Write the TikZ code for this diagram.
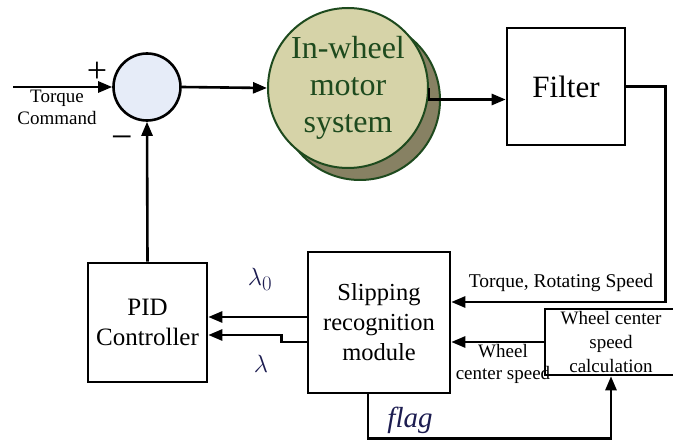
\documentclass[tikz,border=0pt]{standalone}
\usepackage{fontspec}
\setmainfont{Liberation Serif}
\usepackage{tikz}
\usetikzlibrary{positioning,shapes,shadows,arrows.meta}
\definecolor{sumfill}{HTML}{E6ECF8}
\definecolor{motorfill}{HTML}{D6D3A8}
\definecolor{motorshade}{HTML}{878163}
\definecolor{motorline}{HTML}{1E4A1E}
\definecolor{greekblue}{HTML}{1C1C50}
\tikzstyle{block}=[rectangle, draw=black, line width=2.6pt, align=center, inner sep=0pt]
\tikzstyle{sumnode}=[circle, draw=black, line width=2.6pt, fill=sumfill, minimum size=67pt, inner sep=0pt]
\tikzstyle{motornode}=[circle, draw=motorline, line width=2pt, fill=motorfill, text=motorline,
        minimum size=160pt, inner sep=0pt, align=center,
        drop shadow={shadow xshift=12pt, shadow yshift=-12pt, fill=motorshade, draw=motorline, opacity=1}]
\tikzstyle{myarrow}=[-{Triangle[length=14pt,width=11pt]}, line width=2.6pt]
\tikzstyle{sig}=[align=center, inner sep=0pt]

\begin{document}
\begin{tikzpicture}[x=1pt, y=1pt]
	\useasboundingbox (0,0) rectangle (673,440);

	\node (sum) [sumnode] at (147,353) {};
	\node (motor) [motornode, font=\fontsize{32}{37}\selectfont] at (348,352)
        {In-wheel\\ motor\\ system};
	\node (filter) [block, minimum width=118pt, minimum height=117pt, font=\fontsize{31}{36}\selectfont] at (566,353.5)
        {Filter};
	\node (slip) [block, minimum width=142pt, minimum height=141pt, font=\fontsize{24.5}{30}\selectfont] at (379,117.5)
        {Slipping\\ recognition\\ module};
	\node (pid) [block, minimum width=119pt, minimum height=119pt, font=\fontsize{25}{30}\selectfont] at (147.5,117.5)
        {PID\\ Controller};
	\node (calc) [block, minimum width=132pt, minimum height=66pt, font=\fontsize{19}{24}\selectfont] at (611,98)
        {Wheel center\\ speed\\ calculation};

	\coordinate (in) at (13,353);

	% labels
	\node (plus) [sig, font=\fontsize{36}{36}\selectfont] at (97,368) {+};
	\node (minus) [sig, font=\fontsize{38}{38}\selectfont] at (122,297) {−};
	\node (torquecmd) [sig, font=\fontsize{19}{22}\selectfont] at (57,333) {Torque\\ Command};
	\node (lamzero) [sig, text=greekblue, font=\fontsize{31}{31}\selectfont] at (260,161) {$\lambda_0$};
	\node (lam) [sig, text=greekblue, font=\fontsize{31}{31}\selectfont] at (261,76) {$\lambda$};
	\node (torquespeed) [sig, font=\fontsize{19.5}{22}\selectfont] at (561,157) {Torque, Rotating Speed};
	\node (wheelspeed) [sig, font=\fontsize{19}{22}\selectfont] at (503,76) {Wheel\\ center speed};
	\node (flag) [sig, text=greekblue, font=\fontsize{29}{29}\selectfont\itshape] at (410,20) {flag};

\draw[myarrow] (in) -- (sum.west);
\draw[myarrow] (sum.east) -- (motor.west);
\draw[myarrow] (motor.east) |- ([yshift=-13pt]filter.west);
\draw[myarrow] (filter.east) -- ++(39,0) |- ([yshift=20.5pt]slip.east);
\draw[myarrow] (calc.west) -- (calc.west -| slip.east);

\draw[myarrow] ([yshift=5.5pt]slip.west) -- ([yshift=5.5pt]pid.east);
\draw[myarrow] ([yshift=-19.5pt]slip.west) -- ++(-25,0) -- ++(0,7) -- ([yshift=-12.5pt]pid.east);
\draw[myarrow] (pid.north) -- (sum.south);

\draw[myarrow] ([xshift=-11pt]slip.south) -- ++(0,-44) -| (calc.south);

\end{tikzpicture}
\end{document}
